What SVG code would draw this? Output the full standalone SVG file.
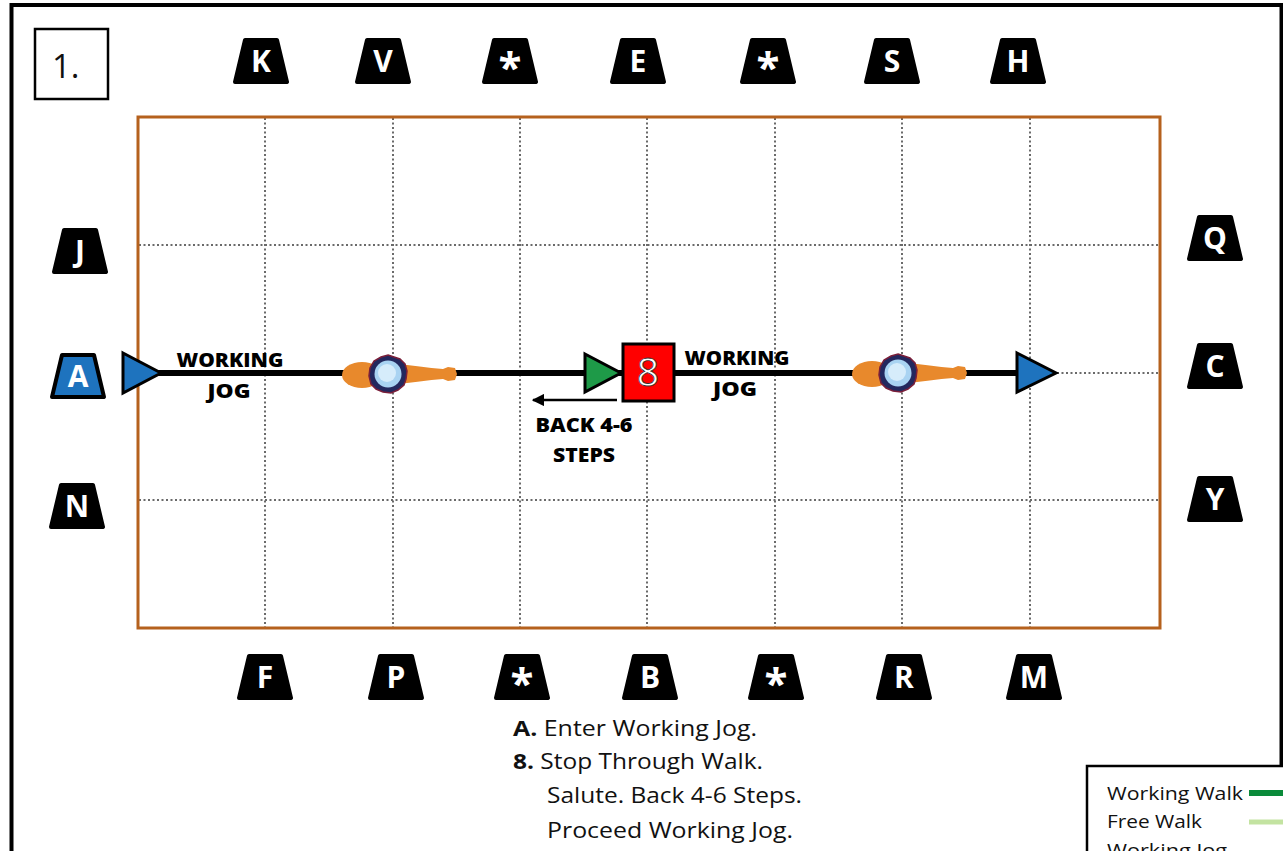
<svg xmlns="http://www.w3.org/2000/svg" xmlns:xlink="http://www.w3.org/1999/xlink" width="1283" height="851" viewBox="0 0 1283 851">
  <style>
    .frame { fill: none; stroke: #000; stroke-width: 4; }
    .arena { fill: none; stroke: #B5611D; stroke-width: 3; }
    .grid { stroke: #6a6a6a; stroke-width: 2; stroke-dasharray: 2 2.5; fill: none; }
    .mk { fill: #000; stroke: #000; stroke-width: 4; stroke-linejoin: round; }
    .mk-blue { fill: #1E73BE; stroke: #000; stroke-width: 4; stroke-linejoin: round; }
    .mk-txt { font-family: "Open Sans", "Liberation Sans", sans-serif; font-weight: 700; font-size: 30px; fill: #fff; text-anchor: middle; }
    .star { font-size: 42px; }
    .lbl { font-family: "Open Sans", "Liberation Sans", sans-serif; font-weight: 800; font-size: 20px; fill: #000; text-anchor: middle; }
    .body { font-family: "Open Sans", "Liberation Sans", sans-serif; font-size: 21px; fill: #111; }
    .leg { font-family: "Open Sans", "Liberation Sans", sans-serif; font-size: 19px; fill: #111; }
    .path-line { stroke: #000; stroke-width: 6; fill: none; }
    .tri { stroke: #000; stroke-width: 3; stroke-linejoin: miter; }
  </style>
  <defs>
    <!-- letter marker: rounded trapezoid centred on 0,0 -->
    <path id="mk" d="M -16 -21 L 16 -21 L 26 21 L -26 21 Z"/>
    <marker id="ah" viewBox="0 0 10 10" refX="9" refY="5" markerWidth="5" markerHeight="5" orient="auto-start-reverse">
      <path d="M 0 0 L 10 5 L 0 10 Z" fill="#000"/>
    </marker>
    <!-- horse and rider seen from above, facing right -->
    <g id="horse">
      <ellipse cx="-26" cy="1" rx="20" ry="13" fill="#E8892C"/>
      <path d="M 6 -10 C 24 -9 40 -6 55 -5 L 60 -7 L 67 -6 L 69 0 L 67 6 L 60 7 L 55 5 C 40 6 24 9 6 10 Z" fill="#E8892C"/>
      <ellipse cx="0" cy="0" rx="22" ry="14" fill="#E8892C"/>
      <path d="M 0 -19 L 6 -17 L 12 -15 L 17 -10 L 19 -3 L 18 5 L 16 11 L 10 16 L 3 19 L -5 18 L -12 15 L -17 10 L -19 2 L -18 -6 L -14 -13 L -7 -17 Z" fill="#23285E" stroke="#7A1F3A" stroke-width="1.5"/>
      <circle cx="0" cy="0" r="13.5" fill="#A9D3F2"/>
      <circle cx="-1" cy="-1" r="9" fill="#D6ECFB"/>
    </g>
  </defs>

  <rect x="0" y="0" width="1283" height="851" fill="#fff"/>

  <!-- outer frame -->
  <rect class="frame" x="11.5" y="5" width="1270" height="900"/>

  <!-- number box -->
  <g id="num">
    <rect x="35" y="29" width="73" height="70" fill="#fff" stroke="#000" stroke-width="2.5"/>
    <text x="52" y="78" font-family="Open Sans, Liberation Sans, sans-serif" font-size="33" fill="#111">1.</text>
  </g>

  <!-- arena -->
  <g id="arena">
    <g class="grid">
      <line x1="265" y1="118" x2="265" y2="627"/>
      <line x1="393" y1="118" x2="393" y2="627"/>
      <line x1="520" y1="118" x2="520" y2="627"/>
      <line x1="647" y1="118" x2="647" y2="627"/>
      <line x1="775" y1="118" x2="775" y2="627"/>
      <line x1="902" y1="118" x2="902" y2="627"/>
      <line x1="1030" y1="118" x2="1030" y2="627"/>
      <line x1="139" y1="245" x2="1159" y2="245"/>
      <line x1="139" y1="373" x2="1159" y2="373"/>
      <line x1="139" y1="500" x2="1159" y2="500"/>
    </g>
    <rect class="arena" x="138" y="117" width="1022" height="511"/>
  </g>

  <!-- letter markers -->
  <g id="marker-K"><use href="#mk" class="mk" x="261" y="61"/><text class="mk-txt" x="261" y="72">K</text></g>
  <g id="marker-V"><use href="#mk" class="mk" x="383" y="61"/><text class="mk-txt" x="383" y="72">V</text></g>
  <g id="marker-top-star1"><use href="#mk" class="mk" x="510" y="61"/><text class="mk-txt star" x="510" y="82">*</text></g>
  <g id="marker-E"><use href="#mk" class="mk" x="638" y="61"/><text class="mk-txt" x="638" y="72">E</text></g>
  <g id="marker-top-star2"><use href="#mk" class="mk" x="768" y="61"/><text class="mk-txt star" x="768" y="82">*</text></g>
  <g id="marker-S"><use href="#mk" class="mk" x="892" y="61"/><text class="mk-txt" x="892" y="72">S</text></g>
  <g id="marker-H"><use href="#mk" class="mk" x="1018" y="61"/><text class="mk-txt" x="1018" y="72">H</text></g>

  <g id="marker-F"><use href="#mk" class="mk" x="265" y="677"/><text class="mk-txt" x="265" y="688">F</text></g>
  <g id="marker-P"><use href="#mk" class="mk" x="396" y="677"/><text class="mk-txt" x="396" y="688">P</text></g>
  <g id="marker-bottom-star1"><use href="#mk" class="mk" x="522" y="677"/><text class="mk-txt star" x="522" y="698">*</text></g>
  <g id="marker-B"><use href="#mk" class="mk" x="650" y="677"/><text class="mk-txt" x="650" y="688">B</text></g>
  <g id="marker-bottom-star2"><use href="#mk" class="mk" x="776" y="677"/><text class="mk-txt star" x="776" y="698">*</text></g>
  <g id="marker-R"><use href="#mk" class="mk" x="904" y="677"/><text class="mk-txt" x="904" y="688">R</text></g>
  <g id="marker-M"><use href="#mk" class="mk" x="1034" y="677"/><text class="mk-txt" x="1034" y="688">M</text></g>

  <g id="marker-J"><use href="#mk" class="mk" x="80" y="251"/><text class="mk-txt" x="80" y="262">J</text></g>
  <g id="marker-A"><use href="#mk" class="mk-blue" x="78" y="376"/><text class="mk-txt" x="78" y="387">A</text></g>
  <g id="marker-N"><use href="#mk" class="mk" x="77" y="506"/><text class="mk-txt" x="77" y="517">N</text></g>

  <g id="marker-Q"><use href="#mk" class="mk" x="1215" y="238"/><text class="mk-txt" x="1215" y="249">Q</text></g>
  <g id="marker-C"><use href="#mk" class="mk" x="1215" y="366"/><text class="mk-txt" x="1215" y="377">C</text></g>
  <g id="marker-Y"><use href="#mk" class="mk" x="1215" y="499"/><text class="mk-txt" x="1215" y="510">Y</text></g>

  <!-- route -->
  <g id="connectors">
    <line class="path-line" x1="150" y1="373" x2="1030" y2="373"/>
    <line x1="617" y1="400" x2="533" y2="400" stroke="#000" stroke-width="2.5" marker-end="url(#ah)"/>
  </g>

  <!-- start triangle at A -->
  <g id="start">
    <path class="tri" d="M 123 353 L 161 373 L 123 393 Z" fill="#1E73BE"/>
  </g>

  <g id="horse-1"><use href="#horse" x="388" y="374"/></g>
  <g id="horse-2"><use href="#horse" x="898" y="373"/></g>

  <!-- halt triangle and movement 8 -->
  <g id="halt">
    <path class="tri" d="M 585 354 L 621 373 L 585 392 Z" fill="#1E9A48"/>
  </g>
  <g id="box-8">
    <rect x="623" y="344" width="51" height="57" fill="#FF0000" stroke="#000" stroke-width="3"/>
    <text x="648" y="386" text-anchor="middle" font-family="Open Sans, Liberation Sans, sans-serif" font-size="39" fill="#fff" stroke="#333" stroke-width="0.8">8</text>
  </g>

  <!-- finish triangle -->
  <g id="finish">
    <path class="tri" d="M 1017 353 L 1056 373 L 1017 392 Z" fill="#1E73BE"/>
  </g>

  <!-- route labels -->
  <g id="labels">
    <text class="lbl" x="230" y="367" textLength="107" lengthAdjust="spacingAndGlyphs">WORKING</text>
    <text class="lbl" x="229" y="398" textLength="43" lengthAdjust="spacingAndGlyphs">JOG</text>
    <text class="lbl" x="737" y="365" textLength="105" lengthAdjust="spacingAndGlyphs">WORKING</text>
    <text class="lbl" x="735" y="396" textLength="44" lengthAdjust="spacingAndGlyphs">JOG</text>
    <text class="lbl" x="584" y="432" textLength="97" lengthAdjust="spacingAndGlyphs">BACK 4-6</text>
    <text class="lbl" x="584" y="462" textLength="62" lengthAdjust="spacingAndGlyphs">STEPS</text>
  </g>

  <!-- test notes -->
  <g id="notes">
    <text class="body" x="513" y="736" textLength="244" lengthAdjust="spacingAndGlyphs"><tspan font-weight="700">A.</tspan> Enter Working Jog.</text>
    <text class="body" x="513" y="769" textLength="250" lengthAdjust="spacingAndGlyphs"><tspan font-weight="700">8.</tspan> Stop Through Walk.</text>
    <text class="body" x="547" y="803" textLength="255" lengthAdjust="spacingAndGlyphs">Salute. Back 4-6 Steps.</text>
    <text class="body" x="547" y="838" textLength="246" lengthAdjust="spacingAndGlyphs">Proceed Working Jog.</text>
  </g>

  <!-- legend (continues past the lower edge) -->
  <g id="legend">
    <rect x="1087" y="766" width="230" height="120" fill="#fff" stroke="#000" stroke-width="2.5"/>
    <text class="leg" x="1107" y="800" textLength="136" lengthAdjust="spacingAndGlyphs">Working Walk</text>
    <line x1="1249" y1="793" x2="1283" y2="793" stroke="#0A8A3A" stroke-width="6"/>
    <text class="leg" x="1107" y="828" textLength="95" lengthAdjust="spacingAndGlyphs">Free Walk</text>
    <line x1="1249" y1="822" x2="1283" y2="822" stroke="#C3E3A1" stroke-width="5"/>
    <text class="leg" x="1107" y="857" textLength="120" lengthAdjust="spacingAndGlyphs">Working Jog</text>
  </g>
</svg>
